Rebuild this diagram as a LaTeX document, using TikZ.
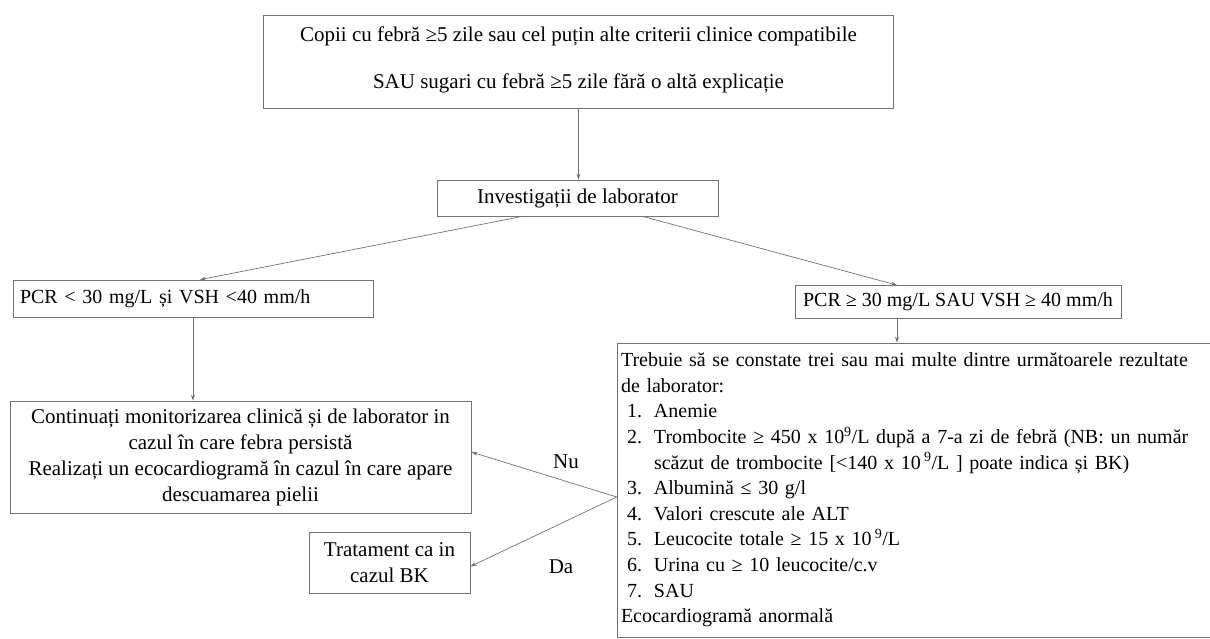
\documentclass[tikz,border=0pt]{standalone}
\usepackage{fontspec}
\setmainfont{Liberation Serif}
\usetikzlibrary{arrows.meta}
% number column of the criteria list
\newcommand{\listnum}[1]{\makebox[33pt][l]{\hspace*{6pt}#1}}
\begin{document}
\begin{tikzpicture}[x=1pt,y=-1pt,
  box/.style={draw=black!55, line width=0.7pt, inner sep=0pt,
    font=\fontsize{21}{26}\selectfont, align=center},
  small/.style={font=\fontsize{20}{25.6}\selectfont},
  link/.style={draw=black!55, line width=0.7pt, -{Stealth[length=6pt,width=4pt]}},
  lbl/.style={font=\fontsize{21}{25}\selectfont}]
\useasboundingbox (0,0) rectangle (1210,638);

% boxes
\node[box, minimum width=630pt, minimum height=93pt] (top) at (578.5,61.5)
  {Copii cu febră ≥5 zile sau cel puțin alte criterii clinice compatibile\\[21pt]
   SAU sugari cu febră ≥5 zile fără o altă explicație\\[-18pt]\mbox{}};
\node[box, minimum width=281pt, minimum height=36pt] (inv) at (577.5,198)
  {Investigații de laborator};
\node[box, small, minimum width=360pt, minimum height=37pt, text width=346pt, align=left]
  (pcrlow) at (193,298.5) {PCR < 30 mg/L și VSH <40 mm/h};
\node[box, small, minimum width=326pt, minimum height=33pt] (pcrhi) at (958,302)
  {PCR ≥ 30 mg/L SAU VSH ≥ 40 mm/h};
\node[box, minimum width=461pt, minimum height=112pt] (cont) at (240.5,457)
  {Continuați monitorizarea clinică și de laborator in\\
   cazul în care febra persistă\\
   Realizați un ecocardiogramă în cazul în care apare\\
   descuamarea pielii};
\node[box, minimum width=161pt, minimum height=61pt] (trat) at (389.5,562.5)
  {Tratament ca in\\cazul BK};
\node[box, small, align=left, text width=602pt, inner xsep=4pt, minimum height=294pt]
  (rbox) at (922,490)
  {Trebuie să se constate trei sau mai multe dintre următoarele rezultate\\
   de laborator:\\
   \listnum{1.}Anemie\\
   \listnum{2.}Trombocite ≥ 450 x 10\textsuperscript{9}/L după a 7-a zi de febră (NB: un număr\\
   \hspace*{33pt}scăzut de trombocite [<140 x 10\,\textsuperscript{9}/L ] poate indica și BK)\\
   \listnum{3.}Albumină ≤ 30 g/l\\
   \listnum{4.}Valori crescute ale ALT\\
   \listnum{5.}Leucocite totale ≥ 15 x 10\,\textsuperscript{9}/L\\
   \listnum{6.}Urina cu ≥ 10 leucocite/c.v\\
   \listnum{7.}SAU\\
   Ecocardiogramă anormală};

% connectors
\draw[link] (top.south) -- (top.south |- inv.north);
\draw[link] ([xshift=-55pt]inv.south) -- ([xshift=7pt]pcrlow.north);
\draw[link] ([xshift=65pt]inv.south) -- ([xshift=-61pt]pcrhi.north);
\draw[link] (pcrlow.south) -- (pcrlow.south |- cont.north);
\draw[link] ([xshift=-61pt]pcrhi.south) -- ([xshift=-61pt]pcrhi.south |- rbox.north);
\coordinate (split) at ([yshift=-7pt]rbox.west);
\draw[link] (split) -- ([yshift=5pt]cont.east);
\draw[link] (split) -- ([yshift=-4pt]trat.east);

% branch labels
\node[lbl] (nu) at (566,462) {Nu};
\node[lbl] (da) at (561,567) {Da};
\end{tikzpicture}
\end{document}
